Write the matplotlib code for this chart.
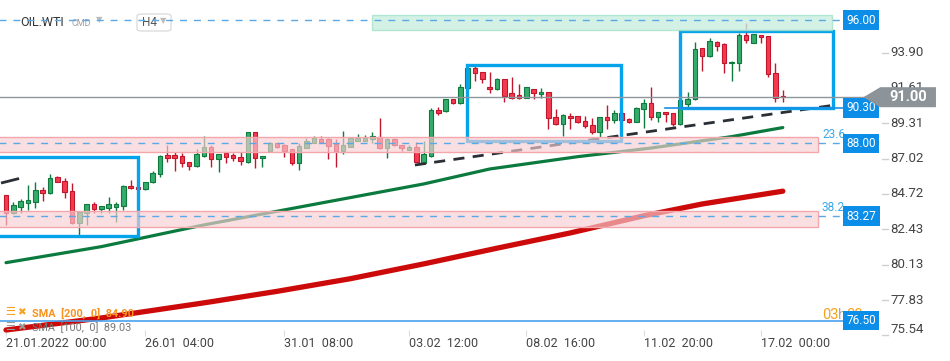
import matplotlib.pyplot as plt
from matplotlib.patches import Rectangle, Polygon, FancyBboxPatch
import matplotlib.transforms as mtransforms

plt.rcParams['font.family'] = ['Roboto', 'DejaVu Sans']

# H4 candles OIL.WTI, 21.01.2022 -> 16.02.2022
opens = [84.65, 83.47, 83.89, 84.15, 84.22, 84.98, 84.76, 85.80, 85.58, 84.91,
         82.82, 83.47, 84.05, 83.75, 83.83, 83.89, 83.96, 85.24, 85.15, 85.02,
         85.48, 86.02, 87.25, 87.25, 87.19, 86.78, 86.56, 87.21, 87.77, 86.97,
         87.36, 87.25, 87.10, 86.82, 88.72, 87.04, 87.53, 88.01, 87.90, 87.62,
         86.75, 87.72, 88.05, 88.29, 88.29, 87.94, 87.53, 87.79, 88.18, 88.18,
         88.27, 88.44, 87.69, 88.29, 87.90, 87.58, 87.75, 86.75, 87.21, 90.17,
         90.11, 90.87, 90.61, 91.58, 92.88, 92.62, 91.64, 91.51, 92.16, 91.25,
         91.14, 90.97, 91.51, 91.19, 91.32, 89.70, 89.24, 89.78, 89.78, 89.46,
         89.20, 88.74, 89.70, 89.49, 89.99, 89.57, 89.41, 90.22, 90.61, 89.74,
         90.02, 89.96, 89.24, 90.54, 90.86, 94.17, 93.69, 94.60, 94.45, 93.20,
         93.24, 95.04, 94.54, 95.04, 94.97, 92.55, 91.10]
highs = [84.65, 84.20, 84.40, 85.30, 85.50, 85.17, 86.02, 85.89, 85.76, 85.45,
         83.55, 84.10, 84.20, 83.96, 84.51, 84.20, 85.30, 85.63, 85.17, 85.50,
         86.21, 87.25, 87.90, 87.46, 87.40, 86.80, 87.64, 88.48, 87.90, 87.32,
         87.45, 87.40, 87.43, 88.75, 88.75, 87.20, 88.11, 88.05, 87.95, 87.66,
         88.01, 88.37, 88.48, 88.48, 88.32, 88.29, 88.81, 88.36, 88.61, 88.55,
         88.76, 89.63, 88.32, 88.32, 87.93, 87.90, 88.11, 88.16, 90.28, 90.35,
         90.90, 90.90, 91.86, 92.92, 93.03, 92.65, 92.62, 92.23, 92.20, 92.33,
         91.86, 91.67, 91.53, 91.58, 91.36, 90.22, 89.88, 89.96, 89.80, 89.78,
         89.63, 89.72, 90.50, 90.17, 90.02, 89.63, 90.38, 90.88, 91.64, 90.05,
         90.04, 89.98, 90.84, 91.32, 94.56, 94.20, 94.82, 94.63, 94.50, 93.33,
         95.15, 95.80, 95.10, 95.06, 95.00, 93.20, 91.47]
lows = [82.71, 83.40, 83.49, 83.68, 83.81, 84.26, 84.72, 85.50, 84.48, 82.80,
        82.06, 82.71, 83.49, 83.49, 83.49, 82.92, 83.68, 85.04, 85.00, 84.98,
        85.41, 85.84, 86.82, 86.23, 86.49, 86.28, 86.50, 87.15, 86.49, 86.17,
        86.75, 86.88, 86.60, 86.71, 86.39, 86.49, 87.50, 87.72, 87.14, 86.60,
        86.28, 87.70, 88.00, 88.08, 86.99, 86.49, 87.32, 87.75, 88.15, 88.15,
        88.01, 87.65, 87.07, 87.83, 87.53, 87.55, 86.78, 86.70, 87.15, 89.85,
        90.04, 90.58, 90.58, 91.55, 92.07, 91.94, 91.29, 91.48, 90.71, 90.86,
        90.86, 90.94, 90.86, 90.97, 88.94, 89.20, 88.50, 88.94, 89.35, 88.98,
        88.61, 88.42, 88.92, 89.35, 89.48, 89.31, 89.38, 88.98, 89.52, 89.41,
        89.41, 89.15, 89.20, 90.32, 90.80, 92.72, 93.63, 94.02, 92.55, 92.07,
        92.72, 94.50, 94.50, 94.54, 92.33, 90.67, 90.71]
closes = [83.47, 84.01, 84.26, 84.33, 84.98, 84.76, 85.74, 85.52, 84.87, 82.82,
          83.53, 84.05, 83.75, 83.94, 84.05, 84.05, 85.24, 85.09, 85.02, 85.48,
          86.06, 87.21, 87.08, 87.08, 86.75, 86.56, 87.32, 87.75, 86.97, 87.30,
          87.14, 87.04, 86.84, 88.72, 87.04, 87.17, 88.01, 87.79, 87.53, 86.75,
          87.83, 88.16, 88.35, 88.11, 87.85, 87.53, 87.90, 88.33, 88.35, 88.35,
          88.46, 87.69, 88.29, 87.90, 87.69, 87.75, 86.82, 87.30, 90.17, 90.00,
          90.87, 90.61, 91.64, 92.88, 92.55, 92.16, 91.51, 92.16, 91.10, 90.97,
          90.97, 91.64, 91.25, 91.36, 89.63, 89.24, 89.85, 89.63, 89.37, 89.13,
          88.72, 89.70, 89.49, 89.99, 89.52, 89.37, 90.28, 90.64, 89.74, 90.02,
          89.89, 89.24, 90.82, 90.88, 94.11, 93.69, 94.65, 94.34, 93.24, 93.31,
          95.04, 94.71, 95.08, 94.89, 92.49, 90.97, 91.00]

# moving averages, read at a few bars
sma100_bars = [0, 13, 27, 44, 57, 66, 78, 88, 99, 106]
sma100_vals = [80.26, 81.30, 82.71, 84.22, 85.37, 86.34, 87.14, 87.70, 88.44, 89.03]
sma200_bars = [0, 13, 27, 37, 47, 57, 67, 77, 87, 95, 106]
sma200_vals = [75.89, 76.67, 77.65, 78.40, 79.22, 80.18, 81.20, 82.19, 83.30, 84.07, 84.90]

# levels
last_price = 91.00
level_96 = 96.00
level_903 = 90.30
fib_levels = [88.00, 83.27]
fib_names = ['23.6', '38.2']
level_765 = 76.50

tick_bars = [0, 19, 38, 55, 71, 87, 103]
tick_labels = ['21.01.2022  00:00', '26.01  04:00', '31.01  08:00', '03.02  12:00',
               '08.02  16:00', '11.02  20:00', '17.02  00:00']
price_ticks = [93.90, 91.61, 89.31, 87.02, 84.72, 82.43, 80.13, 77.83, 75.54]

fig = plt.figure(figsize=(9.5, 3.61), dpi=100)
ax = fig.add_axes([0, 25 / 361, 881 / 950, 336 / 361])
ax.set_xlim(-0.82, 119.4)
ax.set_ylim(75.50, 97.31)
for s in ax.spines.values():
    s.set_visible(False)
ax.set_yticks([])

W = 881.0
H = 336.0
def px(x):
    return x / W
def py(y):
    return 1 - y / H

blend = mtransforms.blended_transform_factory(ax.transAxes, ax.transData)

# candles
green_f, green_e = '#35ac6c', '#0f7a3d'
red_f, red_e = '#f43a4e', '#c2162d'
for i, (o, h, l, c) in enumerate(zip(opens, highs, lows, closes)):
    up = c >= o
    fc = green_f if up else red_f
    ec = green_e if up else red_e
    ax.vlines(i, l, h, color=ec, lw=1, zorder=3)
    ax.add_patch(Rectangle((i - 0.31, min(o, c)), 0.62, max(abs(c - o), 0.04),
                           fc=fc, ec=ec, lw=0.8, zorder=3.1))

# SMA lines
ax.plot(sma200_bars, sma200_vals, color='#cc0a0a', lw=3.8, solid_capstyle='round', zorder=4)
ax.plot(sma100_bars, sma100_vals, color='#0b7a3e', lw=2.3, solid_capstyle='round', zorder=4)

# trend lines
ax.plot([55.8, 113.1], [86.60, 90.49], color='#2a2f36', lw=2, ls=(0, (4, 3)), zorder=4)
ax.plot([-0.5, 1.6], [85.45, 85.70], color='#2a2f36', lw=2, zorder=4)

# blue boxes
box_c = '#05a3ea'
for x0, x1, y0, y1 in [(-3, 18.0, 82.00, 87.12), (62.9, 83.9, 88.16, 93.09), (91.95, 112.8, 90.30, 95.30)]:
    ax.add_patch(Rectangle((x0, y0), x1 - x0, y1 - y0, fill=False, ec=box_c, lw=2.4, zorder=4.5))

# zones
ax.add_patch(Rectangle((49.9, 95.36), 62.8, 0.98, fc='#c8efdf', ec='#a5e2c9', lw=1, alpha=0.8, zorder=5))
for lo, hi in [(87.45, 88.42), (82.60, 83.63)]:
    ax.add_patch(Rectangle((-1, lo), 111.8, hi - lo, fc='#f8cfd3', ec='none', alpha=0.65, zorder=5))
    ax.add_patch(Rectangle((-1, lo), 111.8, hi - lo, fill=False, ec='#f3a7ad', lw=1, zorder=5))

# level lines
dash_c = '#5aa8e6'
ax.plot([-1, 114.5], [level_96, level_96], color=dash_c, lw=1, ls=(0, (5, 5)), zorder=5.5)
for v in fib_levels:
    ax.plot([-1, 114.5], [v, v], color=dash_c, lw=1, ls=(0, (5, 5)), zorder=5.5)
ax.plot([89.9, 119], [level_903, level_903], color='#1a8fe6', lw=1.2, zorder=5.5)
ax.plot([-1, 119], [level_765, level_765], color='#4aa2ee', lw=1.2, zorder=5.5)
ax.plot([-1, 117.2], [last_price, last_price], color='#8d969b', lw=1, zorder=5.5)

for name, v in zip(fib_names, fib_levels):
    ax.text(px(822), v + 0.55, name, transform=blend, color='#3aa8e8', fontsize=8.5, va='center', zorder=6)

# countdown (partly hidden behind the 76.50 tag, as on the chart)
ax.text(px(822), py(315), '03', transform=ax.transAxes, color='#f7a21b', fontsize=10.5, va='center', zorder=6)
ax.text(px(838), py(315), 'h', transform=ax.transAxes, color='#aaaaaa', fontsize=10.5, va='center', zorder=6)
ax.text(px(846), py(315), '00', transform=ax.transAxes, color='#f7a21b', fontsize=10.5, va='center', zorder=6)
ax.text(px(862), py(315), 'm', transform=ax.transAxes, color='#aaaaaa', fontsize=10.5, va='center', zorder=6)

# blue price tags
for v in [level_96, level_903] + fib_levels + [level_765]:
    ax.text(114.7, v, f'{v:.2f}', color='white', fontsize=8.5, va='center', ha='left', zorder=7,
            bbox=dict(boxstyle='square,pad=0.28', fc='#0b8de8', ec='none'), clip_on=False)

# last price tag
ax.add_patch(Polygon([(117.0, last_price), (119.3, last_price + 0.65), (126.9, last_price + 0.65),
                      (126.9, last_price - 0.65), (119.3, last_price - 0.65)],
                     closed=True, fc='#8c9499', ec='none', zorder=7, clip_on=False))
ax.text(123.1, last_price, f'{last_price:.2f}', color='white', fontsize=10.5, fontweight='bold',
        ha='center', va='center', zorder=8, clip_on=False)

# price axis
for v in price_ticks:
    ax.plot([1.001, 1.008], [v, v], transform=blend, color='#d0d0d0', lw=1, clip_on=False, zorder=1)
    va = 'bottom' if v == price_ticks[-1] else 'center'
    yy = v - 0.05 if va == 'bottom' else v
    ax.text(1.0105, yy, f'{v:.2f}', transform=blend, color='#444444', fontsize=9.5, va=va, ha='left',
            clip_on=False, zorder=1)

# time axis
ax.set_xticks(tick_bars)
ax.set_xticklabels(tick_labels, ha='left')
ax.tick_params(axis='x', direction='in', length=4, color='#dddddd', pad=1, labelsize=9, labelcolor='#444444')

# header
ax.text(px(20), py(22), 'OIL.WTI', transform=ax.transAxes, color='#333333', fontsize=9, va='center', zorder=5)
ax.text(px(72), py(23), 'CMD', transform=ax.transAxes, color='#9aa0a6', fontsize=6.5, va='center', zorder=5)
ax.text(px(96), py(20), '\u25bc', transform=ax.transAxes, color='#bbbbbb', fontsize=6, va='center', zorder=5)
ax.add_patch(FancyBboxPatch((px(137), py(31)), px(34), 17 / H, boxstyle='round,pad=0,rounding_size=0.006',
                            transform=ax.transAxes, fc='white', ec='#dddddd', lw=1, zorder=4.9))
ax.text(px(142), py(22), 'H4', transform=ax.transAxes, color='#555555', fontsize=8.5, va='center', zorder=5)
ax.text(px(160), py(21), '\u25bc', transform=ax.transAxes, color='#bbbbbb', fontsize=6, va='center', zorder=5)

# legend
ax.text(px(5), py(312), '\u2630', transform=ax.transAxes, color='#f7a21b', fontsize=8, va='center', zorder=6)
ax.text(px(17), py(312), '\u2716', transform=ax.transAxes, color='#f7a21b', fontsize=7.5, va='center', zorder=6)
ax.text(px(32), py(313), 'SMA  [200,  0]  84.90', transform=ax.transAxes, color='#f7931e', fontsize=7.8,
        fontweight='bold', va='center', zorder=6)
ax.text(px(5), py(327), '\u2630', transform=ax.transAxes, color='#9a9a9a', fontsize=8, va='center', zorder=6)
ax.text(px(17), py(327), '\u2716', transform=ax.transAxes, color='#9a9a9a', fontsize=7.5, va='center', zorder=6)
ax.text(px(32), py(328), 'SMA  [100,  0]  89.03', transform=ax.transAxes, color='#777777', fontsize=7.8,
        va='center', zorder=6)

fig.savefig('out.png', dpi=100)
